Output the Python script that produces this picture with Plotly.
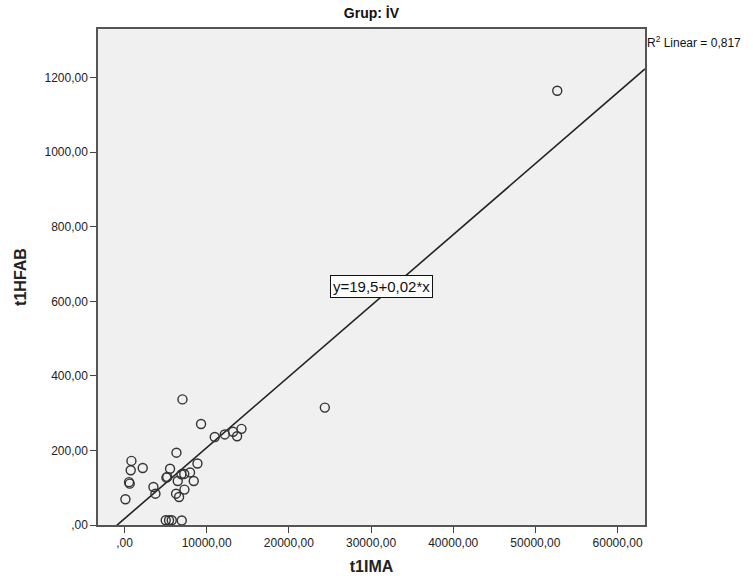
import plotly.graph_objects as go

# ---- data ----
t1IMA = [52660, 24376, 7050, 9315, 10983, 12200, 13211, 14233, 13698, 6319,
         840, 755, 2216, 5540, 8876, 7975, 5102, 5199, 6928, 7269,
         6478, 8426, 548, 633, 3519, 3762, 6271, 7293, 6636, 110,
         5016, 5418, 5747, 6965]
t1HFAB = [1165, 315, 337, 271, 236, 243, 250, 258, 238, 194,
          172, 147, 153, 151, 165, 141, 127, 129, 136, 137,
          118, 118, 115, 111, 102, 84, 84, 95, 75, 69,
          12.6, 12.6, 12.6, 12]

fit_intercept = 17.0
fit_slope = 0.01905
equation_label = "y=19,5+0,02*x"
r2_label = "R<sup>2</sup> Linear = 0,817"

x_range = [-3227, 63338]
y_range = [0, 1330.7]
x_ticks = [0, 10000, 20000, 30000, 40000, 50000, 60000]
x_ticktext = [",00", "10000,00", "20000,00", "30000,00", "40000,00", "50000,00", "60000,00"]
y_ticks = [0, 200, 400, 600, 800, 1000, 1200]
y_ticktext = [",00", "200,00", "400,00", "600,00", "800,00", "1000,00", "1200,00"]

fig = go.Figure()

line_x = [x_range[0], x_range[1]]
line_y = [fit_intercept + fit_slope * v for v in line_x]
fig.add_trace(go.Scatter(x=line_x, y=line_y, mode="lines",
                         line=dict(color="#222222", width=1.6),
                         hoverinfo="skip", showlegend=False))

fig.add_trace(go.Scatter(x=t1IMA, y=t1HFAB, mode="markers",
                         marker=dict(symbol="circle-open", size=9,
                                     color="#333333", line=dict(width=1.4, color="#333333")),
                         showlegend=False, cliponaxis=False))

axis_font = dict(family="Liberation Sans, Arial, sans-serif", size=12, color="#222222")

fig.update_xaxes(range=x_range, tickvals=x_ticks, ticktext=x_ticktext,
                 ticks="outside", ticklen=6, tickcolor="#444444", tickwidth=1,
                 showline=True, linecolor="#555555", linewidth=1.5, mirror=True,
                 showgrid=False, zeroline=False, tickfont=axis_font,
                 title=dict(text="<b>t1IMA</b>", standoff=12,
                            font=dict(family="Liberation Sans, Arial, sans-serif", size=16, color="#222222")))
fig.update_yaxes(range=y_range, tickvals=y_ticks, ticktext=y_ticktext,
                 ticks="outside", ticklen=6, tickcolor="#444444", tickwidth=1,
                 showline=True, linecolor="#555555", linewidth=1.5, mirror=True,
                 showgrid=False, zeroline=False, tickfont=axis_font,
                 title=dict(text="<b>t1HFAB</b>", standoff=14,
                            font=dict(family="Liberation Sans, Arial, sans-serif", size=16, color="#222222")))

fig.add_annotation(x=31316, y=641, xref="x", yref="y", text=equation_label,
                   showarrow=False, bgcolor="white", bordercolor="#111111", borderwidth=1,
                   borderpad=2,
                   font=dict(family="Liberation Sans, Arial, sans-serif", size=15, color="#111111"))

fig.add_annotation(x=1.0, y=1.0, xref="paper", yref="paper", xanchor="left", yanchor="top",
                   text=r2_label, showarrow=False, xshift=0, yshift=-3,
                   font=dict(family="Liberation Sans Narrow, Liberation Sans, Arial, sans-serif",
                             size=12, color="#111111"))

fig.update_layout(
    width=753, height=586,
    margin=dict(l=98, r=108, t=29, b=61),
    paper_bgcolor="white", plot_bgcolor="#f0f0f0",
    title=dict(text="<b>Grup: İV</b>", x=0.4933, xanchor="center", y=0.978, yanchor="middle",
               font=dict(family="Liberation Sans Narrow, Liberation Sans, Arial, sans-serif",
                         size=14, color="#111111")),
)

fig.write_html("out.html")
